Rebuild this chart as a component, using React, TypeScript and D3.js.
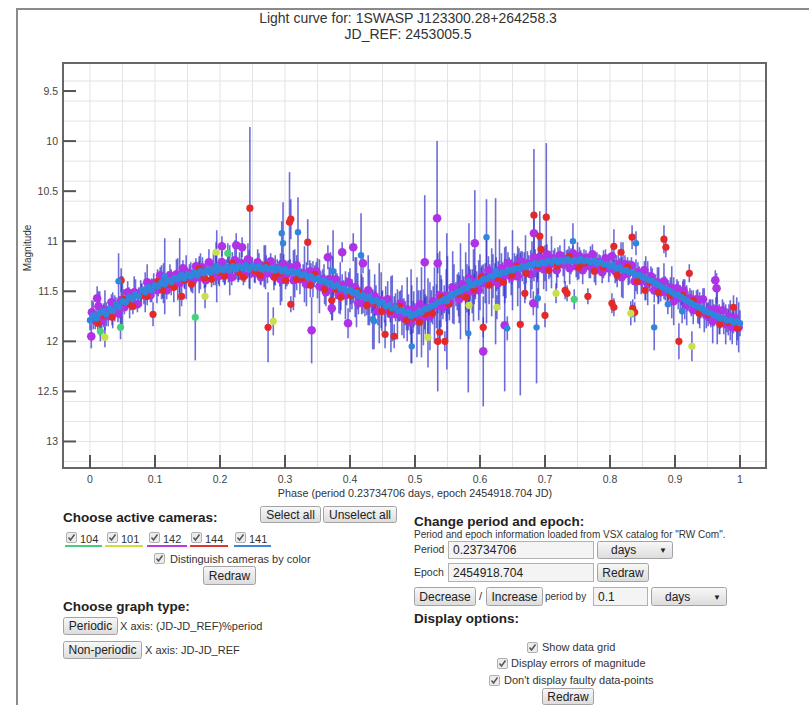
import React from 'react';
import * as d3 from 'd3';

// [phase, magnitude, error] per camera
const cam141: [number, number, number][] = [
  [0.000,11.79,0.10],[0.005,11.74,0.14],[0.010,11.77,0.08],[0.015,11.72,0.22],[0.020,11.70,0.06],[0.025,11.73,0.12],
  [0.030,11.67,0.09],[0.035,11.69,0.18],[0.040,11.63,0.07],[0.045,11.66,0.11],[0.050,11.60,0.25],[0.055,11.61,0.08],
  [0.060,11.56,0.10],[0.065,11.58,0.06],[0.070,11.53,0.15],[0.075,11.55,0.09],[0.080,11.49,0.07],[0.085,11.51,0.20],
  [0.090,11.46,0.08],[0.095,11.49,0.12],[0.100,11.44,0.06],[0.105,11.45,0.10],[0.110,11.41,0.17],[0.115,11.43,0.07],
  [0.120,11.39,0.09],[0.125,11.41,0.13],[0.130,11.37,0.06],[0.135,11.38,0.21],[0.140,11.34,0.08],[0.145,11.37,0.10],
  [0.150,11.33,0.07],[0.155,11.35,0.14],[0.160,11.31,0.09],[0.165,11.34,0.06],[0.170,11.30,0.18],[0.175,11.32,0.08],
  [0.180,11.29,0.11],[0.185,11.31,0.07],[0.190,11.28,0.16],[0.195,11.30,0.09],[0.200,11.27,0.06],[0.205,11.29,0.12],
  [0.210,11.26,0.08],[0.215,11.29,0.25],[0.220,11.25,0.07],[0.225,11.28,0.10],[0.230,11.25,0.14],[0.235,11.27,0.08],
  [0.240,11.24,0.06],[0.245,11.28,0.19],[0.250,11.25,0.09],[0.255,11.27,0.07],[0.260,11.25,0.13],[0.265,11.28,0.08],
  [0.270,11.26,0.22],[0.275,11.28,0.06],[0.280,11.27,0.10],[0.285,11.29,0.15],[0.290,11.27,0.07],[0.295,11.30,0.30],
  [0.300,11.28,0.09],[0.305,11.31,0.12],[0.310,11.30,0.08],[0.315,11.32,0.24],[0.320,11.31,0.10],[0.325,11.34,0.07],
  [0.330,11.33,0.28],[0.335,11.36,0.09],[0.340,11.35,0.13],[0.345,11.38,0.08],[0.350,11.37,0.20],[0.355,11.40,0.10],
  [0.360,11.39,0.16],[0.365,11.42,0.08],[0.370,11.42,0.31],[0.375,11.45,0.09],[0.380,11.44,0.12],[0.385,11.47,0.26],
  [0.390,11.47,0.08],[0.395,11.50,0.14],[0.400,11.49,0.22],[0.405,11.52,0.10],[0.410,11.51,0.35],[0.415,11.55,0.09],
  [0.420,11.54,0.18],[0.425,11.57,0.11],[0.430,11.56,0.28],[0.435,11.60,0.10],[0.440,11.59,0.15],[0.445,11.62,0.40],
  [0.450,11.61,0.12],[0.455,11.65,0.20],[0.460,11.64,0.09],[0.465,11.67,0.33],[0.470,11.66,0.14],[0.475,11.70,0.10],
  [0.480,11.69,0.25],[0.485,11.72,0.12],[0.490,11.71,0.18],[0.495,11.74,0.30],[0.500,11.73,0.11],[0.505,11.71,0.22],
  [0.510,11.71,0.45],[0.515,11.68,0.12],[0.520,11.67,0.30],[0.525,11.65,0.16],[0.530,11.64,0.38],[0.535,11.61,0.11],
  [0.540,11.60,0.26],[0.545,11.58,0.14],[0.550,11.57,0.42],[0.555,11.54,0.12],[0.560,11.53,0.30],[0.565,11.51,0.18],
  [0.570,11.50,0.48],[0.575,11.47,0.12],[0.580,11.47,0.24],[0.585,11.44,0.16],[0.590,11.44,0.36],[0.595,11.41,0.11],
  [0.600,11.41,0.28],[0.605,11.38,0.15],[0.610,11.38,0.44],[0.615,11.35,0.12],[0.620,11.35,0.22],[0.625,11.33,0.17],
  [0.630,11.33,0.35],[0.635,11.31,0.10],[0.640,11.31,0.26],[0.645,11.29,0.13],[0.650,11.29,0.40],[0.655,11.27,0.12],
  [0.660,11.27,0.20],[0.665,11.25,0.15],[0.670,11.26,0.32],[0.675,11.24,0.10],[0.680,11.24,0.24],[0.685,11.22,0.14],
  [0.690,11.23,0.30],[0.695,11.21,0.11],[0.700,11.22,0.18],[0.705,11.20,0.09],[0.710,11.21,0.26],[0.715,11.19,0.12],
  [0.720,11.21,0.15],[0.725,11.19,0.08],[0.730,11.20,0.22],[0.735,11.18,0.10],[0.740,11.20,0.13],[0.745,11.19,0.08],
  [0.750,11.20,0.19],[0.755,11.18,0.09],[0.760,11.20,0.12],[0.765,11.19,0.07],[0.770,11.21,0.16],[0.775,11.20,0.09],
  [0.780,11.22,0.11],[0.785,11.21,0.07],[0.790,11.23,0.14],[0.795,11.23,0.08],[0.800,11.25,0.10],[0.805,11.24,0.07],
  [0.810,11.27,0.13],[0.815,11.26,0.09],[0.820,11.29,0.28],[0.825,11.29,0.08],[0.830,11.31,0.12],[0.835,11.31,0.07],
  [0.840,11.34,0.16],[0.845,11.34,0.09],[0.850,11.36,0.11],[0.855,11.37,0.22],[0.860,11.39,0.08],[0.865,11.40,0.13],
  [0.870,11.42,0.09],[0.875,11.44,0.18],[0.880,11.46,0.08],[0.885,11.47,0.12],[0.890,11.49,0.10],[0.895,11.51,0.26],
  [0.900,11.53,0.09],[0.905,11.54,0.14],[0.910,11.56,0.08],[0.915,11.58,0.20],[0.920,11.60,0.10],[0.925,11.62,0.13],
  [0.930,11.64,0.08],[0.935,11.65,0.17],[0.940,11.67,0.10],[0.945,11.69,0.22],[0.950,11.71,0.09],[0.955,11.72,0.14],
  [0.960,11.74,0.11],[0.965,11.75,0.28],[0.970,11.77,0.10],[0.975,11.77,0.16],[0.980,11.79,0.12],[0.985,11.79,0.20],
  [0.990,11.81,0.11],[0.995,11.80,0.24],[1.000,11.82,0.13],
  // outliers
  [0.295,10.92,0.12],[0.297,11.02,0.41],[0.320,10.91,0.35],[0.417,11.14,0.42],[0.495,12.05,0.17],[0.437,11.80,0.28],
  [0.610,10.96,0.38],[0.687,11.86,0.56],[0.642,11.87,0.12],[0.689,11.57,0.10],[0.840,11.02,0.12],[0.868,11.86,0.23],
  [0.889,11.63,0.10],[0.911,11.70,0.12],[0.743,11.00,0.18],[0.374,11.30,0.41],[0.044,11.40,0.28],[0.115,11.35,0.38],
  [0.138,11.36,0.39],[0.195,11.25,0.36],[0.582,11.92,0.59],[0.583,11.40,0.58],[0.624,11.30,0.73],[0.549,11.60,0.68],
  [0.494,11.75,0.47],[0.435,11.78,0.30],
];

const cam142: [number, number, number][] = [
  [0.003,11.71,0.12],[0.008,11.79,0.09],[0.013,11.65,0.15],[0.018,11.80,0.07],[0.023,11.69,0.20],[0.028,11.75,0.10],
  [0.033,11.61,0.08],[0.038,11.67,0.13],[0.043,11.72,0.09],[0.048,11.59,0.24],[0.053,11.66,0.07],[0.058,11.51,0.11],
  [0.063,11.59,0.10],[0.068,11.51,0.16],[0.073,11.63,0.08],[0.078,11.51,0.12],[0.083,11.54,0.09],[0.088,11.41,0.18],
  [0.093,11.54,0.07],[0.098,11.42,0.10],[0.103,11.49,0.13],[0.108,11.34,0.08],[0.113,11.42,0.20],[0.118,11.49,0.09],
  [0.123,11.34,0.11],[0.128,11.42,0.07],[0.133,11.33,0.15],[0.138,11.42,0.10],[0.143,11.27,0.08],[0.148,11.36,0.22],
  [0.153,11.32,0.09],[0.158,11.40,0.12],[0.163,11.25,0.08],[0.168,11.36,0.16],[0.173,11.26,0.10],[0.178,11.39,0.07],
  [0.183,11.21,0.13],[0.188,11.32,0.09],[0.193,11.26,0.18],[0.198,11.35,0.08],[0.203,11.21,0.11],[0.208,11.33,0.10],
  [0.213,11.27,0.14],[0.218,11.36,0.08],[0.223,11.19,0.20],[0.228,11.30,0.09],[0.233,11.22,0.12],[0.238,11.34,0.07],
  [0.243,11.18,0.16],[0.248,11.27,0.10],[0.253,11.32,0.09],[0.258,11.21,0.13],[0.263,11.36,0.08],[0.268,11.25,0.21],
  [0.273,11.32,0.10],[0.278,11.20,0.08],[0.283,11.35,0.14],[0.288,11.27,0.09],[0.293,11.38,0.26],[0.298,11.23,0.10],
  [0.303,11.33,0.12],[0.308,11.26,0.08],[0.313,11.39,0.30],[0.318,11.24,0.10],[0.323,11.38,0.15],[0.328,11.32,0.09],
  [0.333,11.43,0.22],[0.338,11.30,0.11],[0.343,11.38,0.18],[0.348,11.30,0.09],[0.353,11.45,0.27],[0.358,11.38,0.10],
  [0.363,11.51,0.14],[0.368,11.38,0.12],[0.373,11.47,0.32],[0.378,11.38,0.10],[0.383,11.54,0.18],[0.388,11.44,0.11],
  [0.393,11.54,0.24],[0.398,11.41,0.10],[0.403,11.53,0.15],[0.408,11.46,0.30],[0.413,11.62,0.11],[0.418,11.53,0.20],
  [0.423,11.62,0.13],[0.428,11.49,0.35],[0.433,11.62,0.10],[0.438,11.55,0.22],[0.443,11.70,0.14],[0.448,11.59,0.28],
  [0.453,11.69,0.12],[0.458,11.58,0.18],[0.463,11.73,0.38],[0.468,11.66,0.11],[0.473,11.73,0.25],[0.478,11.62,0.13],
  [0.483,11.77,0.20],[0.488,11.68,0.32],[0.493,11.81,0.12],[0.498,11.68,0.18],[0.503,11.76,0.40],[0.508,11.63,0.14],
  [0.513,11.76,0.28],[0.518,11.67,0.12],[0.523,11.75,0.34],[0.528,11.60,0.15],[0.533,11.65,0.22],[0.538,11.54,0.44],
  [0.543,11.66,0.12],[0.548,11.54,0.26],[0.553,11.61,0.18],[0.558,11.46,0.36],[0.563,11.53,0.12],[0.568,11.58,0.24],
  [0.573,11.43,0.15],[0.578,11.51,0.40],[0.583,11.37,0.12],[0.588,11.50,0.22],[0.593,11.41,0.17],[0.598,11.49,0.30],
  [0.603,11.35,0.11],[0.608,11.42,0.20],[0.613,11.29,0.14],[0.618,11.41,0.34],[0.623,11.32,0.10],[0.628,11.42,0.22],
  [0.633,11.27,0.15],[0.638,11.34,0.28],[0.643,11.22,0.11],[0.648,11.36,0.18],[0.653,11.25,0.13],[0.658,11.35,0.30],
  [0.663,11.20,0.10],[0.668,11.27,0.16],[0.673,11.22,0.12],[0.678,11.33,0.24],[0.683,11.16,0.10],[0.688,11.27,0.14],
  [0.693,11.17,0.09],[0.698,11.28,0.20],[0.703,11.13,0.10],[0.708,11.23,0.13],[0.713,11.17,0.08],[0.718,11.29,0.18],
  [0.723,11.14,0.10],[0.728,11.23,0.12],[0.733,11.18,0.09],[0.738,11.27,0.16],[0.743,11.12,0.08],[0.748,11.25,0.11],
  [0.753,11.15,0.09],[0.758,11.29,0.14],[0.763,11.17,0.08],[0.768,11.25,0.12],[0.773,11.13,0.10],[0.778,11.28,0.16],
  [0.783,11.21,0.08],[0.788,11.31,0.11],[0.793,11.17,0.09],[0.798,11.27,0.14],[0.803,11.15,0.08],[0.808,11.30,0.12],
  [0.813,11.23,0.10],[0.818,11.36,0.20],[0.823,11.23,0.09],[0.828,11.32,0.12],[0.833,11.24,0.08],[0.838,11.40,0.18],
  [0.843,11.31,0.10],[0.848,11.40,0.13],[0.853,11.29,0.09],[0.858,11.42,0.22],[0.863,11.35,0.10],[0.868,11.49,0.12],
  [0.873,11.41,0.15],[0.878,11.51,0.09],[0.883,11.40,0.18],[0.888,11.51,0.11],[0.893,11.46,0.10],[0.898,11.60,0.24],
  [0.903,11.47,0.09],[0.908,11.57,0.13],[0.913,11.49,0.11],[0.918,11.64,0.20],[0.923,11.57,0.10],[0.928,11.69,0.14],
  [0.933,11.58,0.09],[0.938,11.69,0.18],[0.943,11.58,0.11],[0.948,11.74,0.13],[0.953,11.68,0.10],[0.958,11.80,0.22],
  [0.963,11.68,0.12],[0.968,11.78,0.15],[0.973,11.69,0.11],[0.978,11.83,0.20],[0.983,11.75,0.12],[0.988,11.86,0.17],
  [0.993,11.77,0.13],[0.998,11.86,0.25],
  // outliers
  [0.011,11.57,0.12],[0.203,11.05,0.10],[0.225,11.04,0.12],[0.234,11.06,0.10],[0.366,11.16,0.12],[0.388,11.11,0.10],
  [0.405,11.06,0.14],[0.420,11.22,0.10],[0.341,11.89,0.33],[0.397,11.82,0.15],[0.372,11.67,0.12],[0.515,11.21,0.67],
  [0.534,10.77,0.77],[0.592,11.02,0.53],[0.605,12.10,0.55],[0.638,11.84,0.66],[0.682,11.62,0.12],[0.683,10.92,0.15],
  [0.964,11.47,0.15],[0.962,11.39,0.10],[0.002,11.95,0.12],[0.535,11.22,0.10],
];

const cam144: [number, number, number][] = [
  [0.012,11.82,0.09],[0.021,11.74,0.12],[0.034,11.76,0.08],[0.052,11.58,0.10],[0.061,11.63,0.14],[0.066,11.65,0.08],
  [0.079,11.54,0.11],[0.088,11.55,0.09],[0.104,11.40,0.12],[0.112,11.49,0.08],[0.121,11.43,0.10],[0.129,11.46,0.15],
  [0.146,11.39,0.09],[0.156,11.43,0.08],[0.168,11.27,0.12],[0.176,11.37,0.10],[0.187,11.38,0.08],[0.199,11.31,0.14],
  [0.207,11.35,0.09],[0.219,11.22,0.11],[0.228,11.31,0.10],[0.236,11.36,0.08],[0.254,11.30,0.12],[0.262,11.34,0.09],
  [0.271,11.24,0.10],[0.284,11.36,0.08],[0.292,11.32,0.13],[0.301,11.39,0.09],[0.318,11.38,0.11],[0.327,11.37,0.08],
  [0.339,11.44,0.12],[0.346,11.33,0.09],[0.361,11.48,0.15],[0.378,11.48,0.10],[0.386,11.56,0.13],[0.401,11.54,0.09],
  [0.412,11.50,0.18],[0.426,11.64,0.10],[0.439,11.62,0.12],[0.449,11.70,0.20],[0.462,11.70,0.11],[0.476,11.65,0.15],
  [0.487,11.79,0.10],[0.497,11.76,0.16],[0.507,11.81,0.12],[0.516,11.73,0.20],[0.527,11.72,0.11],[0.541,11.56,0.18],
  [0.552,11.63,0.10],[0.567,11.53,0.22],[0.578,11.56,0.12],[0.591,11.48,0.15],[0.602,11.36,0.10],[0.614,11.44,0.19],
  [0.627,11.37,0.11],[0.636,11.41,0.14],[0.649,11.34,0.09],[0.657,11.25,0.12],[0.671,11.32,0.10],[0.689,11.25,0.13],
  [0.706,11.29,0.09],[0.719,11.25,0.11],[0.737,11.15,0.10],[0.752,11.26,0.12],[0.761,11.22,0.09],[0.776,11.30,0.11],
  [0.789,11.26,0.08],[0.811,11.34,0.12],[0.827,11.26,0.10],[0.842,11.40,0.13],[0.861,11.41,0.09],[0.874,11.51,0.12],
  [0.893,11.54,0.10],[0.912,11.54,0.14],[0.937,11.72,0.11],[0.951,11.73,0.12],[0.969,11.83,0.10],[0.982,11.81,0.13],
  [0.996,11.87,0.12],
  // outliers
  [0.246,10.67,0.81],[0.307,10.81,0.50],[0.309,10.78,0.20],[0.048,11.39,0.12],[0.141,11.55,0.10],[0.097,11.73,0.12],
  [0.274,11.86,0.35],[0.309,11.63,0.08],[0.335,11.01,0.23],[0.372,11.59,0.10],[0.454,11.93,0.14],[0.468,11.95,0.12],
  [0.535,12.00,0.50],[0.546,12.00,0.10],[0.538,11.91,0.12],[0.605,11.86,0.10],[0.662,11.83,0.71],[0.700,11.74,0.12],
  [0.683,10.74,0.66],[0.702,10.76,0.74],[0.692,10.95,0.25],[0.694,11.08,0.10],[0.669,11.52,0.10],[0.731,11.49,0.09],
  [0.734,11.52,0.08],[0.766,11.55,0.08],[0.803,11.62,0.10],[0.806,11.66,0.09],[0.806,11.05,0.17],[0.817,11.11,0.10],
  [0.834,10.96,0.12],[0.838,11.71,0.10],[0.835,11.67,0.09],[0.854,11.49,0.10],[0.883,10.98,0.14],[0.886,11.06,0.10],
  [0.906,12.00,0.18],[0.922,11.32,0.09],[0.928,11.59,0.10],[0.990,11.66,0.12],
];

const cam101: [number, number, number][] = [
  [0.194,11.11,0.10],[0.177,11.55,0.12],[0.023,11.96,0.10],[0.282,11.80,0.14],[0.520,11.96,0.30],
  [0.626,11.66,0.12],[0.717,11.52,0.10],[0.832,11.72,0.12],[0.926,12.05,0.15],[0.583,11.64,0.10],
];

const cam104: [number, number, number][] = [
  [0.212,11.12,0.10],[0.162,11.76,0.43],[0.047,11.86,0.12],[0.016,11.90,0.10],[0.745,11.58,0.10],
];

const cameraIds = ['104', '101', '142', '144', '141'];
const cameraColors = ['#45cf78', '#d4dc3c', '#b63ce2', '#e23434', '#3b86dc'];
const dotColors: Record<string, string> = {
  '104': '#48d07c', '101': '#c9df4c', '142': '#b032e6', '144': '#e22a2a', '141': '#2f86dc',
};
const dotRadius: Record<string, number> = { '104': 3.6, '101': 3.6, '142': 4.3, '144': 3.6, '141': 3.2 };
const drawOrder: [string, [number, number, number][]][] = [
  ['142', cam142], ['144', cam144], ['141', cam141], ['101', cam101], ['104', cam104],
];

const FONT = '"Liberation Sans", Arial, Helvetica, sans-serif';

const Btn = ({ x, y, w, h, label }: { x: number; y: number; w: number; h: number; label: string }) => (
  <g>
    <rect x={x + 0.5} y={y + 0.5} width={w} height={h} rx={2} fill="url(#btnGrad)" stroke="#a3a3a3" />
    <text x={x + w / 2 + 0.5} y={y + h / 2 + 4.5} textAnchor="middle" fontSize={12} fill="#222">{label}</text>
  </g>
);

const Chk = ({ x, y }: { x: number; y: number }) => (
  <g>
    <rect x={x + 0.5} y={y + 0.5} width={10} height={10} rx={1.5} fill="#ececec" stroke="#b0b0b0" />
    <path d={`M${x + 2.5},${y + 5.5} L${x + 4.5},${y + 8} L${x + 8.5},${y + 2.5}`} fill="none" stroke="#555" strokeWidth={1.5} />
  </g>
);

const Inp = ({ x, y, w, h, value }: { x: number; y: number; w: number; h: number; value: string }) => (
  <g>
    <rect x={x + 0.5} y={y + 0.5} width={w} height={h} fill="#f4f4f4" stroke="#b2b2b2" />
    <text x={x + 5} y={y + h / 2 + 4.5} fontSize={12} fill="#222">{value}</text>
  </g>
);

const Sel = ({ x, y, w, h, label }: { x: number; y: number; w: number; h: number; label: string }) => (
  <g>
    <rect x={x + 0.5} y={y + 0.5} width={w} height={h} rx={2} fill="url(#btnGrad)" stroke="#a3a3a3" />
    <text x={x + 14} y={y + h / 2 + 4.5} fontSize={12} fill="#222">{label}</text>
    <text x={x + w - 13} y={y + h / 2 + 3.5} fontSize={8} fill="#222">▼</text>
  </g>
);

export default function App() {
  const W = 809, H = 705;
  const plot = { left: 63, right: 766, top: 63, bottom: 468 };

  const x = d3.scaleLinear().domain([-0.0415, 1.04]).range([plot.left, plot.right]);
  const y = d3.scaleLinear().domain([9.22, 13.265]).range([plot.top, plot.bottom]);

  const fmt = (v: number) => String(+v.toFixed(2));
  const xGrid = x.ticks(20);
  const yGrid = y.ticks(16);
  const xTicks = x.ticks(10);
  const yTicks = y.ticks(8);

  return (
    <svg width={W} height={H} style={{ position: 'absolute', left: 0, top: 0, background: '#fff' }} fontFamily={FONT}>
      <defs>
        <linearGradient id="btnGrad" x1="0" y1="0" x2="0" y2="1">
          <stop offset="0" stopColor="#f8f8f8" />
          <stop offset="1" stopColor="#dcdcdc" />
        </linearGradient>
        <clipPath id="plotClip">
          <rect x={plot.left} y={plot.top} width={plot.right - plot.left} height={plot.bottom - plot.top} />
        </clipPath>
      </defs>

      {/* outer frame */}
      <path d={`M17,${H} L17,9 L${W},9`} fill="none" stroke="#8a8a8a" strokeWidth={2} />

      {/* title */}
      <text x={408} y={23} textAnchor="middle" fontSize={14} fill="#333">Light curve for: 1SWASP J123300.28+264258.3</text>
      <text x={408} y={39} textAnchor="middle" fontSize={14} fill="#333">JD_REF: 2453005.5</text>

      {/* grid */}
      <g stroke="#e3e3e3" strokeWidth={1}>
        {xGrid.map(t => <line key={'gx' + t} x1={x(t)} x2={x(t)} y1={plot.top} y2={plot.bottom} />)}
        {yGrid.map(t => <line key={'gy' + t} x1={plot.left} x2={plot.right} y1={y(t)} y2={y(t)} />)}
      </g>

      {/* error bars */}
      <g clipPath="url(#plotClip)" stroke="#3535cc" strokeOpacity={0.72} strokeWidth={1.6}>
        {drawOrder.map(([id, pts]) =>
          pts.map((d, i) => (
            <line key={`e${id}-${i}`} x1={x(d[0])} x2={x(d[0])} y1={y(d[1] - d[2])} y2={y(d[1] + d[2])} />
          ))
        )}
      </g>

      {/* points */}
      <g clipPath="url(#plotClip)">
        {drawOrder.map(([id, pts]) =>
          pts.map((d, i) => (
            <circle key={`p${id}-${i}`} cx={x(d[0])} cy={y(d[1])} r={dotRadius[id]} fill={dotColors[id]} />
          ))
        )}
      </g>

      {/* frame and ticks */}
      <rect x={plot.left} y={plot.top} width={plot.right - plot.left} height={plot.bottom - plot.top} fill="none" stroke="#666" strokeWidth={2} />
      <g stroke="#555" strokeWidth={2}>
        {xTicks.map(t => <line key={'tx' + t} x1={x(t)} x2={x(t)} y1={plot.bottom} y2={plot.bottom - 13} />)}
        {yTicks.map(t => <line key={'ty' + t} x1={plot.left} x2={plot.left + 13} y1={y(t)} y2={y(t)} />)}
      </g>
      <g fontSize={10.5} fill="#444">
        {xTicks.map(t => <text key={'lx' + t} x={x(t)} y={483} textAnchor="middle">{fmt(t)}</text>)}
        {yTicks.map(t => <text key={'ly' + t} x={58} y={y(t) + 4} textAnchor="end">{fmt(t)}</text>)}
      </g>
      <text x={415} y={497} textAnchor="middle" fontSize={10.8} fill="#333">Phase (period 0.23734706 days, epoch 2454918.704 JD)</text>
      <text transform="translate(31,248) rotate(-90)" textAnchor="middle" fontSize={10} fill="#333">Magnitude</text>

      {/* left controls */}
      <text x={63} y={522} fontSize={13.5} fontWeight="bold" fill="#222">Choose active cameras:</text>
      <Btn x={260} y={506} w={60} h={16} label="Select all" />
      <Btn x={323} y={506} w={73} h={16} label="Unselect all" />
      {cameraIds.map((id, i) => {
        const bx = [66, 107, 149, 191, 235][i];
        const ux = [[65, 102], [105, 143], [147, 187], [190, 228], [234, 271]][i];
        return (
          <g key={'cam' + id}>
            <Chk x={bx} y={532} />
            <text x={bx + 14} y={543} fontSize={11} fill="#333">{id}</text>
            <line x1={ux[0]} x2={ux[1]} y1={546} y2={546} stroke={cameraColors[i]} strokeWidth={2} />
          </g>
        );
      })}
      <Chk x={154} y={553} />
      <text x={170} y={563} fontSize={11} fill="#333">Distinguish cameras by color</text>
      <Btn x={203} y={566} w={52} h={18} label="Redraw" />

      <text x={63} y={611} fontSize={13.5} fontWeight="bold" fill="#222">Choose graph type:</text>
      <Btn x={63} y={617} w={54} h={17} label="Periodic" />
      <text x={120} y={630} fontSize={11} fill="#333">X axis: (JD-JD_REF)%period</text>
      <Btn x={63} y={641} w={78} h={17} label="Non-periodic" />
      <text x={145} y={654} fontSize={11} fill="#333">X axis: JD-JD_REF</text>

      {/* right controls */}
      <text x={414} y={526} fontSize={13.5} fontWeight="bold" fill="#222">Change period and epoch:</text>
      <text x={414} y={538} fontSize={10} fill="#333">Period and epoch information loaded from VSX catalog for "RW Com".</text>
      <text x={414} y={553} fontSize={10.5} fill="#333">Period</text>
      <Inp x={448} y={541} w={145} h={17} value="0.23734706" />
      <Sel x={597} y={541} w={75} h={17} label="days" />
      <text x={414} y={576} fontSize={10.5} fill="#333">Epoch</text>
      <Inp x={448} y={563} w={145} h={18} value="2454918.704" />
      <Btn x={597} y={563} w={51} h={18} label="Redraw" />
      <Btn x={414} y={587} w={61} h={18} label="Decrease" />
      <text x={479} y={600} fontSize={11} fill="#333">/</text>
      <Btn x={486} y={587} w={56} h={18} label="Increase" />
      <text x={545} y={600} fontSize={10} fill="#333">period by</text>
      <Inp x={593} y={587} w={54} h={18} value="0.1" />
      <Sel x={651} y={587} w={75} h={18} label="days" />

      <text x={414} y={623} fontSize={13.5} fontWeight="bold" fill="#222">Display options:</text>
      <Chk x={527} y={642} />
      <text x={542} y={651} fontSize={11} fill="#333">Show data grid</text>
      <Chk x={497} y={658} />
      <text x={511} y={667} fontSize={11} fill="#333">Display errors of magnitude</text>
      <Chk x={489} y={675} />
      <text x={504} y={684} fontSize={11} fill="#333">Don't display faulty data-points</text>
      <Btn x={542} y={688} w={51} h={16} label="Redraw" />
    </svg>
  );
}
